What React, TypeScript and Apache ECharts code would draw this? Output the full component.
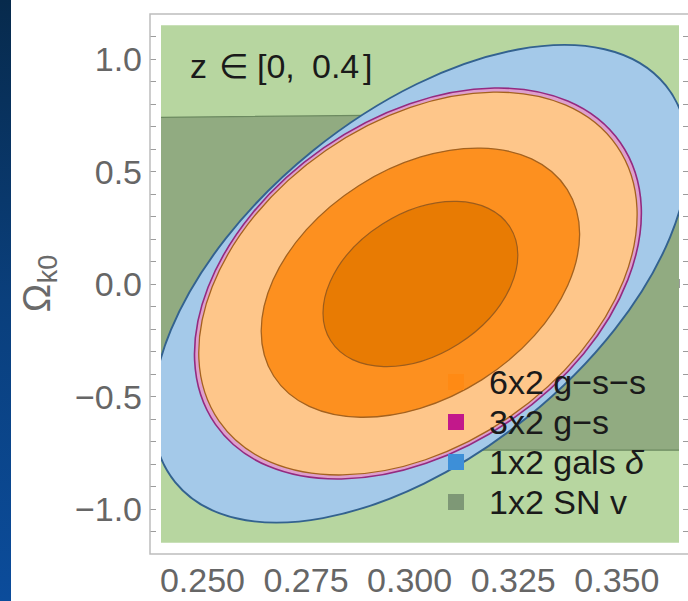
import React, { useEffect, useRef } from 'react';
import * as echarts from 'echarts';

type Pt = [number, number];
// contour ellipse: [centre Ωm, centre Ωk0, half-width in Ωm, half-height in Ωk0, correlation]
type Ell = [number, number, number, number, number];

// Axis ranges (Ωm horizontal, Ωk0 vertical)
const X_MIN = 0.24;
const X_MAX = 0.365;
const Y_MIN = -1.15;
const Y_MAX = 1.15;

const xTickLabels = [0.25, 0.275, 0.3, 0.325, 0.35];
const yTickLabels = [-1.0, -0.5, 0.0, 0.5, 1.0];
const xMinorTicks: number[] = [];
for (let i = 0; i <= 25; i++) xMinorTicks.push(+(0.24 + i * 0.005).toFixed(3));
const yMinorTicks: number[] = [];
for (let i = -11; i <= 11; i++) yMinorTicks.push(+(i * 0.1).toFixed(1));

const legendNames = ['6x2 g−s−s', '3x2 g−s', '1x2 gals δ', '1x2 SN v'];

// SN contours (band, extends beyond the plotted range)
const snOuter: Pt[] = [[0.2, 1.5], [0.4, 1.5], [0.4, -1.5], [0.2, -1.5]];
const snInner: Pt[] = [[0.2, 0.734], [0.4, 0.768], [0.4, -0.739], [0.2, -0.737]];

// 1x2 gals δ contour
const gals1x2: Ell[] = [[0.3026, 0.001, 0.0646, 1.061, 0.537]];
// 3x2 g-s contour
const gs3x2: Ell[] = [[0.302, 0.002, 0.0539, 0.869, 0.36]];
// 6x2 g-s-s contours (outer, middle, inner)
const gss6x2: Ell[] = [
  [0.302, 0.002, 0.0529, 0.851, 0.36],
  [0.3026, 0.006, 0.0384, 0.598, 0.36],
  [0.3026, 0.0, 0.0235, 0.367, 0.35],
];

const FONT = '"Liberation Sans", Arial, "DejaVu Sans", sans-serif';

function bandSeries(name: string, levels: Pt[][], fills: string[], strokes: string[], widths: number[], legendColor: string): any {
  return {
    type: 'custom', name, coordinateSystem: 'cartesian2d', xAxisIndex: 0, yAxisIndex: 0,
    clip: true, silent: true, itemStyle: { color: legendColor },
    data: levels.map((l) => l[0]),
    renderItem: (params: any, api: any) => {
      const i = params.dataIndex;
      return {
        type: 'polygon',
        shape: { points: levels[i].map((p) => api.coord(p)) },
        style: { fill: fills[i], stroke: strokes[i], lineWidth: widths[i] },
      };
    },
  };
}

function ellipseSeries(name: string, levels: Ell[], fills: string[], strokes: string[], widths: number[], legendColor: string): any {
  return {
    type: 'custom', name, coordinateSystem: 'cartesian2d', xAxisIndex: 0, yAxisIndex: 0,
    clip: true, silent: true, itemStyle: { color: legendColor },
    data: levels,
    renderItem: (params: any, api: any) => {
      const i = params.dataIndex;
      const c = api.coord([api.value(0), api.value(1)]);
      const s = api.size([api.value(2), api.value(3)], [api.value(0), api.value(1)]);
      const rho = api.value(4);
      const a = s[0] * s[0];
      const d = s[1] * s[1];
      const cov = -rho * s[0] * s[1]; // screen y points down
      const half = (a + d) / 2;
      const diff = Math.sqrt(((a - d) / 2) ** 2 + cov * cov);
      const theta = 0.5 * Math.atan2(2 * cov, a - d);
      return {
        type: 'ellipse',
        x: c[0], y: c[1], rotation: -theta,
        shape: { cx: 0, cy: 0, rx: Math.sqrt(half + diff), ry: Math.sqrt(Math.max(half - diff, 0)) },
        style: { fill: fills[i], stroke: strokes[i], lineWidth: widths[i] },
      };
    },
  };
}

export default function App() {
  const ref = useRef<HTMLDivElement>(null);
  useEffect(() => {
    if (!ref.current) return;
    const chart = echarts.init(ref.current, null, { renderer: 'svg' });
    const tickStyle = { color: '#9c9c9c', width: 1 };
    const txt = (x: number, text: string) => ({
      type: 'text', z: 100, x, y: 66, silent: true,
      style: { text, fontSize: 34, fontFamily: FONT, fill: '#1a1a1a', verticalAlign: 'middle' },
    });
    const option: any = {
      animation: false,
      backgroundColor: '#ffffff',
      grid: { left: 161, top: 25.25, width: 518, height: 517.5, containLabel: false },
      xAxis: [
        {
          type: 'value', position: 'bottom', min: X_MIN, max: X_MAX, offset: 11.25,
          axisLine: { show: false }, splitLine: { show: false },
          axisTick: { show: true, inside: true, length: 5, lineStyle: tickStyle, customValues: xMinorTicks },
          axisLabel: {
            customValues: xTickLabels, formatter: (v: number) => v.toFixed(3),
            color: '#666666', fontSize: 34, fontFamily: FONT, margin: 9,
          },
        },
        {
          type: 'value', position: 'top', min: X_MIN, max: X_MAX, offset: 11.25,
          axisLine: { show: false }, splitLine: { show: false },
          axisTick: { show: true, inside: true, length: 4, lineStyle: tickStyle, customValues: xMinorTicks },
          axisLabel: { show: false },
        },
      ],
      yAxis: [
        {
          type: 'value', position: 'left', min: Y_MIN, max: Y_MAX, offset: 11,
          axisLine: { show: false }, splitLine: { show: false },
          axisTick: { show: true, inside: true, length: 6, lineStyle: tickStyle, customValues: yMinorTicks },
          axisLabel: {
            customValues: yTickLabels,
            formatter: (v: number) => (v < 0 ? '−' : '') + Math.abs(v).toFixed(1),
            color: '#666666', fontSize: 34, fontFamily: FONT, margin: 8,
          },
        },
        {
          type: 'value', position: 'right', min: Y_MIN, max: Y_MAX, offset: 9,
          axisLine: { show: false }, splitLine: { show: false },
          axisTick: { show: true, inside: true, length: 5, lineStyle: tickStyle, customValues: yMinorTicks },
          axisLabel: { show: false },
        },
      ],
      legend: {
        orient: 'vertical', left: 448, top: 362, padding: 0, itemGap: 0,
        itemWidth: 16, itemHeight: 16, icon: 'rect', selectedMode: false,
        formatter: (n: string) => n.replace('δ', '{i|δ}'),
        textStyle: {
          fontSize: 34, lineHeight: 40, color: '#1a1a1a', fontFamily: FONT, padding: [0, 0, 0, 20],
          rich: { i: { fontStyle: 'italic', fontSize: 34, fontFamily: FONT, color: '#1a1a1a', lineHeight: 40 } },
        },
        data: [
          { name: legendNames[0], itemStyle: { color: '#ff8a14', opacity: 1 } },
          { name: legendNames[1], itemStyle: { color: '#c2188b', opacity: 1 } },
          { name: legendNames[2], itemStyle: { color: '#3d8fd8', opacity: 1 } },
          { name: legendNames[3], itemStyle: { color: '#7e9876', opacity: 1 } },
        ],
      },
      series: [
        bandSeries(legendNames[3], [snOuter, snInner], ['#b7d6a0', '#91ab81'], ['none', '#6c8a60'], [0, 1.2], '#7e9876'),
        ellipseSeries(legendNames[2], gals1x2, ['#a4c9e9'], ['#33628f'], [1.9], '#3d8fd8'),
        ellipseSeries(legendNames[1], gs3x2, ['#de9fcd'], ['#942a80'], [1.6], '#c2188b'),
        ellipseSeries(
          legendNames[0], gss6x2,
          ['#fec68a', '#fd901f', '#e87b03'],
          ['#a4621f', '#a4621f', '#9c5c1c'],
          [1.3, 1.3, 1.2],
          '#ff8a14'
        ),
      ],
      graphic: [
        {
          type: 'rect', z: 100, silent: true,
          shape: { x: 0, y: 0, width: 11, height: 601 },
          style: {
            fill: new echarts.graphic.LinearGradient(0, 0, 0, 1, [
              { offset: 0, color: '#072a4c' },
              { offset: 0.5, color: '#0a3f7c' },
              { offset: 1, color: '#0b4c9b' },
            ]),
          },
        },
        {
          type: 'rect', z: 100, silent: true,
          shape: { x: 150, y: 14, width: 539, height: 540 },
          style: { fill: 'none', stroke: '#bdbdbd', lineWidth: 1.5 },
        },
        txt(190, 'z'),
        txt(219, '∈'),
        txt(257, '[0,'),
        txt(312, '0.4'),
        txt(363, ']'),
        {
          type: 'text', z: 100, x: 37, y: 298, rotation: Math.PI / 2, silent: true,
          style: { text: 'Ω', fontSize: 38, fontFamily: FONT, fill: '#6a6a6a', align: 'center', verticalAlign: 'middle' },
        },
        {
          type: 'text', z: 100, x: 48, y: 269, rotation: Math.PI / 2, silent: true,
          style: { text: 'k0', fontSize: 27, fontFamily: FONT, fill: '#6a6a6a', align: 'center', verticalAlign: 'middle' },
        },
      ],
    };
    chart.setOption(option);
    return () => chart.dispose();
  }, []);
  return (
    <div
      ref={ref}
      style={{ position: 'fixed', left: 0, top: 0, width: 688, height: 601, background: '#fff' }}
    />
  );
}
